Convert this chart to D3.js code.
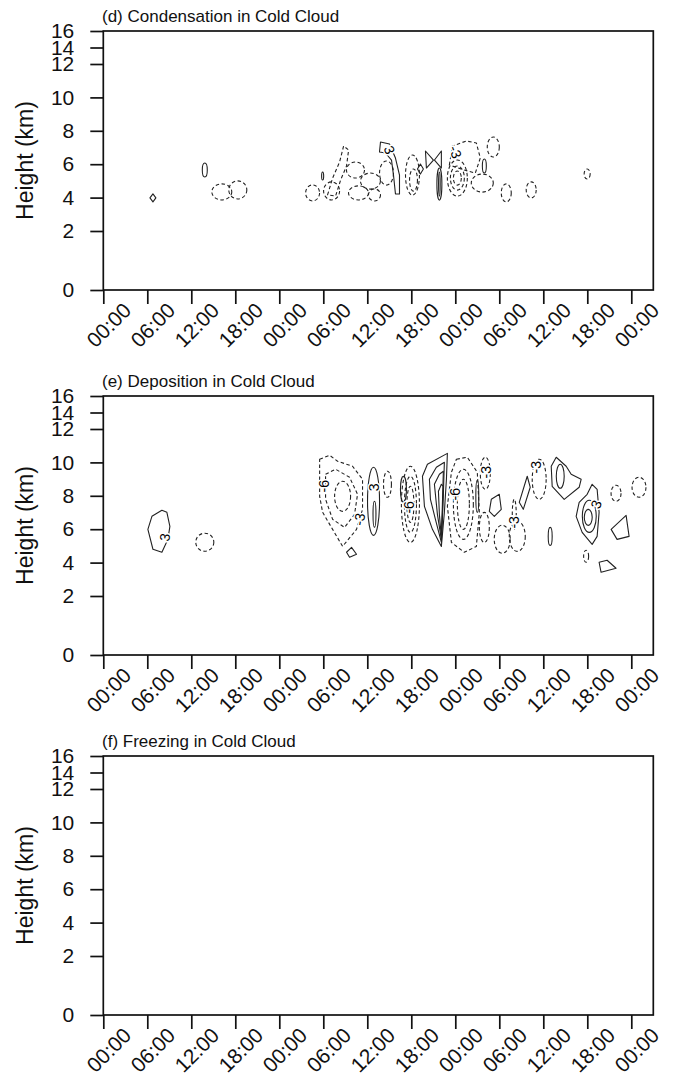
<!DOCTYPE html>
<html>
<head>
<meta charset="utf-8">
<script src="https://cdn.jsdelivr.net/npm/d3@7"></script>
<style>
body{margin:0;background:#fff}
text{font-family:"Liberation Sans",Arial,Helvetica,sans-serif;fill:#111}
</style>
</head>
<body>
<svg id="chart"></svg>
<script>
const width=678;
const height=1079;

// x axis: hours since start, y axis: height (km)
const tickHours=[0,6,12,18,24,30,36,42,48,54,60,66,72];
const tickLabels=["00:00","06:00","12:00","18:00","00:00","06:00","12:00","18:00","00:00","06:00","12:00","18:00","00:00"];
const heightTicks=[0,2,4,6,8,10,12,14,16];
const panelTitles=["(d) Condensation in Cold Cloud","(e) Deposition in Cold Cloud","(f) Freezing in Cold Cloud"];

// contour rings: [hour, km, half-width (h), half-height (km)]
const condPosRings=[[13.84,5.65,.34,.42],[29.91,5.29,.14,.24],[45.83,4.81,.34,.96],[45.83,4.81,.11,.72],[51.96,5.89,.27,.42]];
const condNegRings=[[16.16,4.34,1.36,.48],[18.34,4.46,1.23,.54],[28.54,4.28,.95,.48],[31.13,4.40,1.09,.54],
  [34.39,5.65,1.23,.48],[36.43,4.99,1.36,.48],[34.80,4.28,1.36,.42],[38.62,5.47,.95,.72],[36.98,4.16,.82,.36],
  [42.16,5.35,.95,1.2],[42.30,5.05,.54,.66],
  [48.28,5.17,1.36,1.08],[48.28,5.17,.95,.72],[48.28,5.17,.54,.42],
  [53.18,7.03,.82,.6],[51.68,4.87,1.5,.54],[54.95,4.28,.68,.54],[58.35,4.46,.68,.48],[65.98,5.41,.41,.3]];
const condPosPolys=[
  [[6.36,3.98],[6.77,4.22],[7.17,3.98],[6.77,3.74]],
  [[37.66,6.73],[37.80,7.33],[39.03,7.21],[39.84,6.37],[40.39,5.35],[40.39,4.22],[39.84,4.22],[39.57,5.35],[39.30,6.25],[38.48,6.67]],
  [[42.84,5.71],[43.24,6.01],[43.65,5.71],[43.24,5.41]],
  [[43.93,6.79],[45.02,6.25],[44.06,5.77]],
  [[46.10,6.79],[46.10,5.77],[45.16,6.25]]];
const condNegPolys=[
  [[30.58,4.16],[31.27,5.17],[32.22,6.13],[32.77,7.09],[33.45,6.85],[33.17,5.89],[32.36,5.05],[31.68,4.10]],
  [[47.19,5.95],[47.60,7.09],[49.51,7.39],[50.87,7.27],[51.41,6.37],[50.73,5.47],[49.23,5.65]]];
const condLabels=[[39.03,6.85,"3",70],[48.01,6.73,"-3",70]];

const depoPosRings=[[36.85,7.67,.82,2.04],[36.98,6.89,.2,.78],[40.93,8.39,.41,.78],[51.00,7.97,.2,.96],
  [60.94,5.57,.27,.54],[62.31,9.17,.54,.72],[66.27,6.77,.95,.96],[66.13,6.71,.54,.48]];
const depoNegRings=[[13.84,5.22,1.23,.54],[32.63,7.97,1.09,.9],[38.75,8.69,.54,.78],
  [41.88,7.49,1.23,2.28],[41.88,7.49,.82,1.68],[41.88,7.49,.48,1.08],
  [49.10,7.49,1.36,2.1],[49.10,7.49,.82,1.5],
  [52.09,9.35,.68,.96],[51.96,6.11,.68,.9],[54.40,5.40,1.09,.84],[56.45,5.57,1.09,.9],[56.04,6.89,.27,.9],
  [59.44,8.99,.95,1.2],[65.84,4.38,.34,.36],[69.92,8.15,.68,.48],[73.05,8.51,.95,.6]];
const depoPosPolys=[
  [[6.63,6.77],[7.99,7.13],[8.67,7.01],[9.08,6.17],[8.81,5.40],[7.99,4.62],[6.77,4.80],[6.08,5.99]],
  [[33.17,4.62],[33.85,4.91],[34.53,4.50],[33.58,4.32]],
  [[43.52,9.17],[44.20,9.89],[46.92,10.54],[46.79,8.99],[46.51,7.01],[46.10,4.97],[44.88,5.99],[43.79,7.37]],
  [[44.47,8.99],[45.42,9.71],[46.51,10.01],[46.37,8.09],[46.10,5.21],[45.29,6.59],[44.61,7.79]],
  [[45.15,8.69],[45.83,9.29],[46.37,9.47],[46.24,7.49],[46.10,5.39],[45.56,6.89]],
  [[45.70,8.27],[46.10,8.69],[46.37,8.57],[46.24,6.89],[46.10,5.51],[45.83,6.89]],
  [[52.91,7.79],[54.00,8.09],[54.27,7.19],[53.32,6.77],[52.64,7.07]],
  [[57.81,9.17],[58.22,8.51],[57.27,7.19],[56.72,7.61]],
  [[61.76,10.31],[63.12,9.77],[63.80,9.29],[65.16,8.99],[64.89,8.51],[62.85,7.79],[61.21,8.57],[61.08,9.77]],
  [[66.66,8.69],[67.34,8.39],[67.61,7.01],[67.34,5.57],[66.66,5.09],[65.30,5.81],[64.48,6.77],[64.89,7.61],[65.98,8.09]],
  [[71.29,6.83],[71.70,5.57],[70.06,5.39],[69.25,5.99]],
  [[67.61,4.02],[68.70,4.14],[69.92,3.66],[67.88,3.42]]];
const depoNegPolys=[
  [[29.50,10.19],[30.86,10.43],[31.95,10.07],[33.99,9.77],[35.35,8.99],[35.35,7.19],[34.53,5.99],[32.63,4.97],[31.27,5.99],[29.91,7.01],[29.50,7.97]],
  [[30.31,9.29],[31.68,9.59],[33.58,9.11],[34.67,8.09],[34.26,6.89],[32.90,6.11],[31.27,6.59],[30.31,7.79]],
  [[48.15,10.19],[49.64,10.31],[51.00,9.41],[51.28,7.01],[50.87,4.97],[49.23,4.62],[47.47,5.21],[46.92,7.37],[47.47,9.41]]];
const depoLabels=[[8.40,5.51,"3",-80],[36.98,8.51,"3",-90],[67.20,7.49,"3",-70],
  [30.17,8.57,"-6",-90],[34.94,6.59,"-3",-80],[41.74,7.31,"-6",-90],[48.01,8.09,"-6",-90],
  [52.22,9.41,"-3",-90],[56.04,6.41,"-3",-90],[59.03,9.71,"-3",-90]];

const panels=[
  {title:panelTitles[0],top:31,pos:condPosRings,neg:condNegRings,posP:condPosPolys,negP:condNegPolys,labels:condLabels},
  {title:panelTitles[1],top:396,pos:depoPosRings,neg:depoNegRings,posP:depoPosPolys,negP:depoNegPolys,labels:depoLabels},
  {title:panelTitles[2],top:756,pos:[],neg:[],posP:[],negP:[],labels:[]}
];

const left=103.3, right=653.3, plotH=259;
const fontFam="'Liberation Sans',Arial,sans-serif";

const svg=d3.select("#chart").attr("width",width).attr("height",height);

const x=d3.scaleLinear().domain([0,75]).range([left,right]);

panels.forEach(function(p){
  const bottom=p.top+plotH;
  const y=d3.scaleLinear().domain([0,2,12,16]).range([bottom,bottom-59,p.top+33,p.top]);
  const g=svg.append("g");

  const clipId="clip"+p.top;
  g.append("clipPath").attr("id",clipId).append("rect")
    .attr("x",left).attr("y",p.top).attr("width",right-left).attr("height",plotH);
  const c=g.append("g").attr("clip-path","url(#"+clipId+")")
    .attr("fill","none").attr("stroke","#222").attr("stroke-width",1.1);

  const line=d3.line().x(d=>x(d[0])).y(d=>y(d[1])).curve(d3.curveLinearClosed);

  function rings(data,dashed){
    c.selectAll(null).data(data).enter().append("ellipse")
      .attr("cx",d=>x(d[0])).attr("cy",d=>y(d[1]))
      .attr("rx",d=>x(d[0]+d[2])-x(d[0]))
      .attr("ry",d=>y(d[1]-d[3])-y(d[1]))
      .attr("stroke-dasharray",dashed?"3.5,2.5":null);
  }
  function polys(data,dashed){
    c.selectAll(null).data(data).enter().append("path")
      .attr("d",line)
      .attr("stroke-linejoin","round")
      .attr("stroke-dasharray",dashed?"3.5,2.5":null);
  }
  rings(p.pos,false); rings(p.neg,true);
  polys(p.posP,false); polys(p.negP,true);

  c.selectAll(null).data(p.labels).enter().append("text")
    .attr("transform",d=>"translate("+x(d[0])+","+y(d[1])+") rotate("+d[3]+")")
    .attr("text-anchor","middle").attr("dy","0.35em")
    .attr("font-size",14)
    .attr("stroke","#fff").attr("stroke-width",3).attr("paint-order","stroke")
    .style("fill","#000")
    .text(d=>d[2]);

  // frame
  g.append("rect").attr("x",left).attr("y",p.top).attr("width",right-left).attr("height",plotH)
    .attr("fill","none").attr("stroke","#111").attr("stroke-width",1.7);

  const xa=g.append("g").attr("transform","translate(0,"+bottom+")")
    .call(d3.axisBottom(x).tickValues(tickHours).tickSizeInner(14).tickSizeOuter(0)
      .tickFormat((d,i)=>tickLabels[i]));
  xa.select(".domain").remove();
  xa.selectAll("line").attr("stroke","#111").attr("stroke-width",1.7);
  xa.selectAll("text").attr("y",null).attr("dy","0.35em")
    .attr("transform","translate(5,35) rotate(-45)")
    .attr("text-anchor","middle").attr("font-size",21).style("font-family",fontFam);

  const ya=g.append("g").attr("transform","translate("+left+",0)")
    .call(d3.axisLeft(y).tickValues(heightTicks).tickSizeInner(13).tickSizeOuter(0).tickPadding(16));
  ya.select(".domain").remove();
  ya.selectAll("line").attr("stroke","#111").attr("stroke-width",1.7);
  ya.selectAll("text").attr("font-size",21).style("font-family",fontFam);

  g.append("text").attr("x",102).attr("y",p.top-9).attr("font-size",17).text(p.title);

  g.append("text").attr("transform","translate(33,"+(p.top+plotH/2)+") rotate(-90)")
    .attr("text-anchor","middle").attr("font-size",23).text("Height (km)");
});
</script>
</body>
</html>
